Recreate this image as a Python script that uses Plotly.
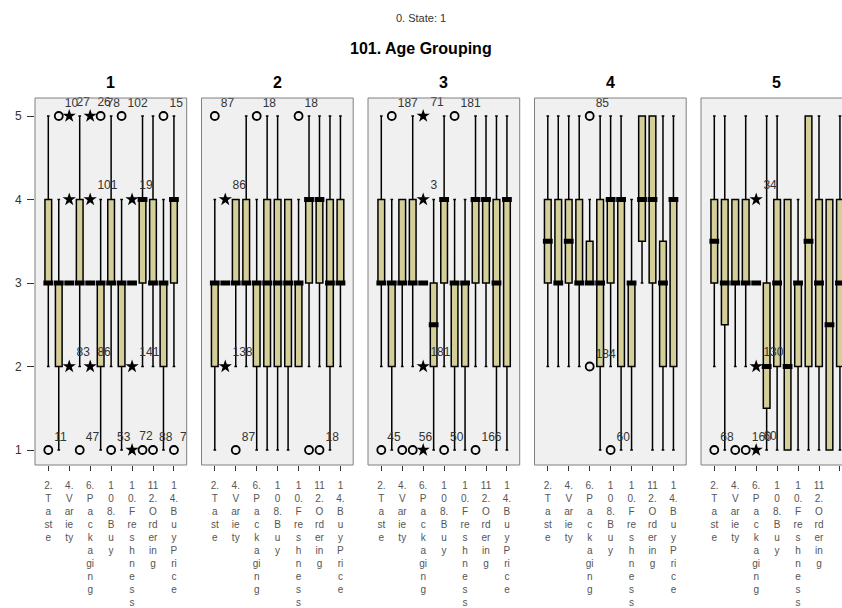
import plotly.graph_objects as go

# ---------------- data ----------------
panel_names = ["1", "2", "3", "4", "5"]
positions = list(range(13))            # 13 variables per panel (every other one labelled)
tick_positions = [0, 2, 4, 6, 8, 10, 12]
tick_labels = [
    ["2.", "T", "a", "st", "e"],
    ["4.", "V", "ar", "ie", "ty"],
    ["6.", "P", "a", "c", "k", "a", "gi", "n", "g"],
    ["1", "0", "8.", "B", "u", "y"],
    ["1", "0.", "F", "re", "s", "h", "n", "e", "s", "s"],
    ["11", "2.", "O", "rd", "er", "in", "g"],
    ["1", "4.", "B", "u", "y", "P", "ri", "c", "e"],
]
y_ticks = [1, 2, 3, 4, 5]

q1_vals = [
    [3, 2, 3, 3, 3, 2, 3, 2, 3, 3, 3, 2, 3],
    [2, 3, 3, 3, 2, 2, 2, 2, 2, 3, 3, 2, 3],
    [3, 2, 3, 3, 3, 2, 3, 2, 2, 3, 3, 2, 2],
    [3, 3, 3, 3, 3, 2, 3, 2, 2, 3.5, 3, 2, 2],
    [3, 2.5, 3, 3, 3, 1.5, 2, 1, 2, 2, 2, 1, 2],
]
med_vals = [
    [3, 3, 3, 3, 3, 3, 3, 3, 3, 4, 3, 3, 4],
    [3, 3, 3, 3, 3, 3, 3, 3, 3, 4, 4, 3, 3],
    [3, 3, 3, 3, 3, 2.5, 4, 3, 3, 4, 4, 3, 4],
    [3.5, 3, 3.5, 3, 3, 3, 4, 4, 3, 4, 4, 3, 4],
    [3.5, 3, 3, 3, 3, 2, 3, 2, 3, 3.5, 3, 2.5, 3],
]
q3_vals = [
    [4, 3, 3, 4, 3, 3, 4, 3, 3, 4, 4, 3, 4],
    [3, 3, 4, 4, 3, 4, 4, 4, 3, 4, 4, 4, 4],
    [4, 3, 4, 4, 3, 3, 4, 3, 3, 4, 4, 4, 4],
    [4, 4, 4, 4, 3.5, 4, 4, 4, 3, 5, 5, 3.5, 4],
    [4, 4, 4, 4, 3, 3, 4, 4, 3, 5, 4, 4, 4],
]
lo_vals = [
    [2, 1, 3, 2, 3, 1, 2, 1, 3, 2, 2, 1, 2],
    [1, 3, 2, 2, 1, 1, 1, 1, 2, 2, 2, 1, 2],
    [2, 1, 2, 2, 3, 1, 2, 1, 1, 2, 2, 1, 1],
    [2, 2, 2, 2, 3, 1, 2, 1, 1, 3, 1, 1, 1],
    [2, 1, 2, 2, 3, 1, 1, 1, 1, 1, 1, 1, 1],
]
hi_vals = [
    [5, 4, 3, 5, 3, 4, 5, 4, 3, 5, 5, 4, 5],
    [4, 3, 4, 5, 4, 5, 5, 4, 4, 5, 5, 5, 5],
    [5, 4, 4, 5, 3, 4, 5, 4, 4, 5, 5, 5, 5],
    [5, 5, 5, 5, 4, 5, 5, 5, 4, 5, 5, 5, 5],
    [5, 5, 4, 5, 3, 5, 5, 4, 4, 5, 5, 4, 5],
]

# (panel index, variable position, value, kind, case label)
outliers = [
    (0, 0, 1, "o", "11"), (0, 1, 5, "o", "10"), (0, 2, 5, "*", "27"), (0, 2, 4, "*", ""),
    (0, 2, 2, "*", "83"), (0, 3, 1, "o", "47"), (0, 4, 5, "*", "26"), (0, 4, 4, "*", "101"),
    (0, 4, 2, "*", "86"), (0, 5, 5, "o", "78"), (0, 6, 1, "o", "53"), (0, 7, 5, "o", "102"),
    (0, 8, 4, "*", "19"), (0, 8, 2, "*", "141"), (0, 8, 1, "*", "72"), (0, 9, 1, "o", ""),
    (0, 10, 1, "o", "88"), (0, 11, 5, "o", "15"), (0, 12, 1, "o", "7"),
    (1, 0, 5, "o", "87"), (1, 1, 4, "*", "86"), (1, 1, 2, "*", "138"), (1, 2, 1, "o", "87"),
    (1, 4, 5, "o", "18"), (1, 8, 5, "o", "18"), (1, 9, 1, "o", ""), (1, 10, 1, "o", "18"),
    (2, 0, 1, "o", "45"), (2, 1, 5, "o", "187"), (2, 2, 1, "o", ""), (2, 3, 1, "o", "56"),
    (2, 4, 5, "*", "71"), (2, 4, 4, "*", "3"), (2, 4, 2, "*", "181"), (2, 4, 1, "*", ""),
    (2, 6, 1, "o", "50"), (2, 7, 5, "o", "181"), (2, 9, 1, "o", "166"),
    (3, 4, 5, "o", "85"), (3, 4, 2, "o", "184"), (3, 6, 1, "o", "60"),
    (4, 0, 1, "o", "68"), (4, 2, 1, "o", ""), (4, 3, 1, "o", "160"), (4, 4, 4, "*", "34"),
    (4, 4, 2, "*", "130"), (4, 4, 1, "*", "60"),
]

# ---------------- styling / layout ----------------
W, H = 842, 608
FONT = "Liberation Sans, Arial, sans-serif"
BOX_FILL = "#d4ce98"
PANEL_BG = "#f0f0f0"
px_per_unit = 10.47
panel_left = [35, 201.5, 368, 534.5, 701]
panel_w = 151.7
top_px, bot_px = 98, 465
x0_units = -1.27
y_range = [1 - (bot_px - 450) / 83.5, 5 + (116 - top_px) / 83.5]
ydom = [1 - bot_px / H, 1 - top_px / H]

fig = go.Figure()
layout = {}
shapes = []
annotations = []

for i in range(5):
    xa = "x" if i == 0 else f"x{i+1}"
    ya = "y" if i == 0 else f"y{i+1}"
    left = panel_left[i]
    right = min(left + panel_w, W)
    xr = [x0_units, x0_units + (right - left) / px_per_unit]

    fig.add_trace(go.Box(
        x=positions, q1=q1_vals[i], median=med_vals[i], q3=q3_vals[i],
        lowerfence=lo_vals[i], upperfence=hi_vals[i],
        orientation="v", xaxis=xa, yaxis=ya, width=0.64, whiskerwidth=0.4,
        fillcolor=BOX_FILL, line=dict(color="black", width=1.5),
        boxpoints=False, hoverinfo="skip", showlegend=False))
    fig.add_trace(go.Scatter(
        x=positions, y=med_vals[i], mode="markers", xaxis=xa, yaxis=ya,
        marker=dict(symbol="line-ew", size=7, color="black",
                    line=dict(color="black", width=5)),
        hoverinfo="skip", showlegend=False))

    for kind, sym, size, lw in (("o", "circle-open", 8, 1.8), ("*", "star", 10, 0)):
        pts = [o for o in outliers if o[0] == i and o[3] == kind]
        if not pts:
            continue
        fig.add_trace(go.Scatter(
            x=[p[1] for p in pts], y=[p[2] for p in pts], text=[p[4] for p in pts],
            mode="markers+text", textposition="top right", cliponaxis=False,
            textfont=dict(size=12, color="#333333", family=FONT),
            marker=dict(symbol=sym, size=size, color="black",
                        line=dict(color="black", width=lw)),
            xaxis=xa, yaxis=ya, hoverinfo="skip", showlegend=False))

    layout["xaxis" if i == 0 else f"xaxis{i+1}"] = dict(
        domain=[left / W, right / W], range=xr, anchor=ya,
        tickmode="array", tickvals=tick_positions,
        ticktext=["<br>".join(t) for t in tick_labels],
        ticks="outside", ticklen=5, tickcolor="#333333", tickangle=0,
        ticklabelstandoff=6,
        tickfont=dict(size=10, color="#555555", family=FONT),
        showgrid=False, zeroline=False, showline=False, fixedrange=True)
    layout["yaxis" if i == 0 else f"yaxis{i+1}"] = dict(
        domain=ydom, range=y_range, anchor=xa,
        tickmode="array", tickvals=y_ticks,
        ticks="outside" if i == 0 else "", ticklen=7, tickcolor="#333333",
        ticklabelstandoff=3,
        showticklabels=(i == 0),
        tickfont=dict(size=12, color="#333333", family=FONT),
        showgrid=False, zeroline=False, showline=False, fixedrange=True)

    shapes.append(dict(type="rect", xref="paper", yref="paper",
                       x0=left / W, x1=(left + panel_w) / W, y0=ydom[0], y1=ydom[1],
                       line=dict(color="#808080", width=1), fillcolor="rgba(0,0,0,0)",
                       layer="above"))
    annotations.append(dict(text=f"<b>{panel_names[i]}</b>", xref="paper", yref="paper",
                            x=(left + panel_w / 2) / W, y=1 - 82 / H,
                            xanchor="center", yanchor="middle", showarrow=False,
                            font=dict(size=16, color="black", family=FONT)))

annotations.append(dict(text="0. State: 1", xref="paper", yref="paper",
                        x=0.5, y=1 - 18 / H, xanchor="center", yanchor="middle",
                        showarrow=False, font=dict(size=11, color="#333333", family=FONT)))
annotations.append(dict(text="<b>101. Age Grouping</b>", xref="paper", yref="paper",
                        x=0.5, y=1 - 48 / H, xanchor="center", yanchor="middle",
                        showarrow=False, font=dict(size=16, color="black", family=FONT)))

fig.update_layout(
    width=W, height=H, margin=dict(l=0, r=0, t=0, b=0),
    paper_bgcolor="white", plot_bgcolor=PANEL_BG,
    font=dict(family=FONT), boxmode="overlay", hovermode=False,
    shapes=shapes, annotations=annotations, showlegend=False, **layout)

fig.write_html("out.html", config={"displayModeBar": False, "staticPlot": True},
               post_script="document.body.style.margin='0px';document.body.style.overflow='hidden';")
